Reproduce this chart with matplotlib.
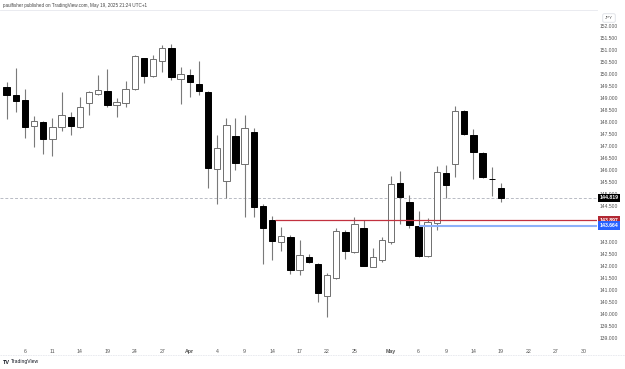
import numpy as np
import pandas as pd
import matplotlib
matplotlib.use('Agg')
import matplotlib.pyplot as plt
import matplotlib.transforms as mtransforms

# USDJPY daily, 4 Mar - 19 May 2025
opens = [149.43, 149.11, 148.90, 147.82, 147.97, 147.27, 147.79, 148.19, 147.77, 148.77,
         149.17, 149.27, 148.68, 148.77, 149.35, 150.64, 149.90, 150.54, 151.08, 149.77,
         149.94, 149.57, 149.25, 146.02, 145.52, 147.42, 146.22, 147.58, 144.49, 143.89,
         142.99, 143.18, 141.81, 142.36, 142.07, 140.75, 141.50, 143.40, 142.57, 143.58,
         141.96, 142.24, 142.97, 145.43, 144.65, 143.65, 142.40, 143.77, 145.85, 146.24,
         148.44, 147.44, 146.68, 145.63, 145.22]
highs = [149.64, 150.22, 149.36, 148.24, 148.03, 148.14, 149.22, 148.39, 149.04, 149.29,
         149.96, 150.18, 148.97, 149.69, 150.78, 150.66, 150.78, 151.21, 151.24, 150.27,
         150.18, 150.52, 149.27, 147.44, 148.14, 148.14, 148.28, 147.72, 144.56, 144.07,
         143.60, 143.28, 143.07, 142.47, 142.10, 141.68, 143.56, 143.49, 144.04, 143.90,
         142.74, 143.21, 145.74, 145.94, 144.94, 144.28, 144.00, 146.15, 146.18, 148.65,
         148.47, 147.68, 146.75, 146.10, 145.43]
lows = [148.11, 148.42, 147.33, 146.96, 146.65, 146.57, 147.62, 147.44, 147.74, 148.28,
        149.11, 148.62, 148.21, 148.62, 149.32, 149.60, 149.87, 150.08, 149.74, 148.74,
        149.02, 149.11, 145.22, 144.57, 144.83, 145.99, 144.01, 144.04, 142.06, 142.24,
        142.60, 141.64, 141.60, 142.12, 140.47, 139.87, 141.43, 142.28, 142.54, 142.00,
        141.93, 142.17, 142.90, 143.72, 143.58, 142.37, 142.37, 143.49, 144.83, 145.71,
        147.46, 145.61, 145.66, 144.92, 144.67]
closes = [149.11, 148.86, 147.79, 148.04, 147.28, 147.77, 148.27, 147.82, 148.61, 149.22,
          149.31, 148.68, 148.82, 149.35, 150.74, 149.92, 150.60, 151.06, 149.87, 149.97,
          149.64, 149.29, 146.06, 146.89, 147.85, 146.29, 147.72, 144.46, 143.56, 143.01,
          143.22, 141.83, 142.44, 142.17, 140.85, 141.61, 143.44, 142.61, 143.74, 142.00,
          142.35, 143.06, 145.39, 144.85, 143.68, 142.40, 143.81, 145.92, 145.36, 148.46,
          147.49, 146.75, 145.68, 145.60, 144.819]

last_price = 144.819
red_level = 143.897
blue_level = 143.664
red_start = '2025-04-14'
blue_start = '2025-05-06'

tick_dates = ['2025-03-06', '2025-03-11', '2025-03-14', '2025-03-19', '2025-03-24', '2025-03-27',
              '2025-04-01', '2025-04-04', '2025-04-09', '2025-04-14', '2025-04-17', '2025-04-22',
              '2025-04-25', '2025-05-01', '2025-05-06', '2025-05-09', '2025-05-14', '2025-05-19',
              '2025-05-22', '2025-05-27', '2025-05-30']
tick_labels = ['6', '11', '14', '19', '24', '27', 'Apr', '4', '9', '14', '17', '22', '25',
               'May', '6', '9', '14', '19', '22', '27', '30']

price_ticks = [p for p in np.arange(139.0, 152.01, 0.5) if p not in (143.5, 144.0)]

days = pd.bdate_range('2025-03-04', '2025-05-30')
pos = {d.strftime('%Y-%m-%d'): i for i, d in enumerate(days)}

o = np.array(opens)
h = np.array(highs)
l = np.array(lows)
c = np.array(closes)
x = np.arange(len(o))
up = c >= o

plt.rcParams['font.family'] = ['Liberation Sans', 'DejaVu Sans']

fig = plt.figure(figsize=(6.25, 3.69), dpi=100)
ax = fig.add_axes([0, 27 / 369, 597 / 625, 332 / 369])

# wicks
ax.vlines(x, l, h, color='#7a7a7a', lw=0.8, zorder=2)

# bodies
body_lo = np.minimum(o, c)
body_h = np.maximum(np.abs(c - o), 0.03)
ax.bar(x[up], body_h[up], bottom=body_lo[up], width=0.7, color='white',
       edgecolor='#6f6f6f', linewidth=0.7, zorder=3)
ax.bar(x[~up], body_h[~up], bottom=body_lo[~up], width=0.7, color='black',
       edgecolor='black', linewidth=0.7, zorder=3)

xmin, xmax = -0.73, 64.5
ax.set_xlim(xmin, xmax)
ax.set_ylim(138.82, 152.65)

# price lines
ax.axhline(last_price, color='#b8bbc4', lw=0.7, ls=(0, (3, 2)), zorder=1)
ax.hlines(red_level, pos[red_start] + 0.3, xmax, color='#c2313f', lw=0.9, zorder=4)
ax.hlines(blue_level, pos[blue_start] + 0.1, xmax, color='#8db1fa', lw=1.5, zorder=4)

for s in ax.spines.values():
    s.set_visible(False)

ax.set_xticks([pos[d] for d in tick_dates])
ax.set_xticklabels(tick_labels, fontsize=3.8, color='#555555')
for t in ax.get_xticklabels():
    if t.get_text() in ('Apr', 'May'):
        t.set_fontweight('bold')
ax.tick_params(axis='x', length=0, pad=5)

ax.yaxis.tick_right()
ax.set_yticks(price_ticks)
ax.set_yticklabels(['%.3f' % p for p in price_ticks], fontsize=3.6, color='#555555')
ax.tick_params(axis='y', length=0, pad=2.2)

# price labels on the scale
trans = mtransforms.blended_transform_factory(ax.transAxes, ax.transData)
for val, col in [(last_price, 'black'), (red_level, '#b22833'), (blue_level, '#2962ff')]:
    ax.text(1.004, val, '%.3f' % val, transform=trans, fontsize=3.7, color='white',
            fontweight='bold', va='center', ha='left', clip_on=False, zorder=10,
            bbox=dict(boxstyle='square,pad=0.35', fc=col, ec='none'))

# frame, header, currency box and logo
fig.add_artist(plt.Line2D([0, 597 / 625], [1 - 10 / 369, 1 - 10 / 369], color='#e6e8ee', lw=0.6))
fig.add_artist(plt.Line2D([0, 1], [1 - 355 / 369, 1 - 355 / 369], color='#e6e8ee', lw=0.6, ls=(0, (2, 1))))
fig.text(0.005, 1 - 5 / 369, 'paulfisher published on TradingView.com, May 19, 2025 21:24 UTC+1',
         fontsize=3.3, color='#444444', va='center', ha='left')
fig.text(609 / 625, 1 - 18 / 369, 'JPY', fontsize=3.2, color='#555555', va='center', ha='center',
         bbox=dict(boxstyle='round,pad=0.5,rounding_size=0.3', fc='white', ec='#d6d9e0', lw=0.5))
fig.text(0.005, 1 - 362 / 369, 'TV', fontsize=4, color='#131722', fontweight='bold',
         va='center', ha='left')
fig.text(0.018, 1 - 362 / 369, 'TradingView', fontsize=3.6, color='#131722', va='center', ha='left')

fig.savefig('out.png', dpi=100, facecolor='white')
